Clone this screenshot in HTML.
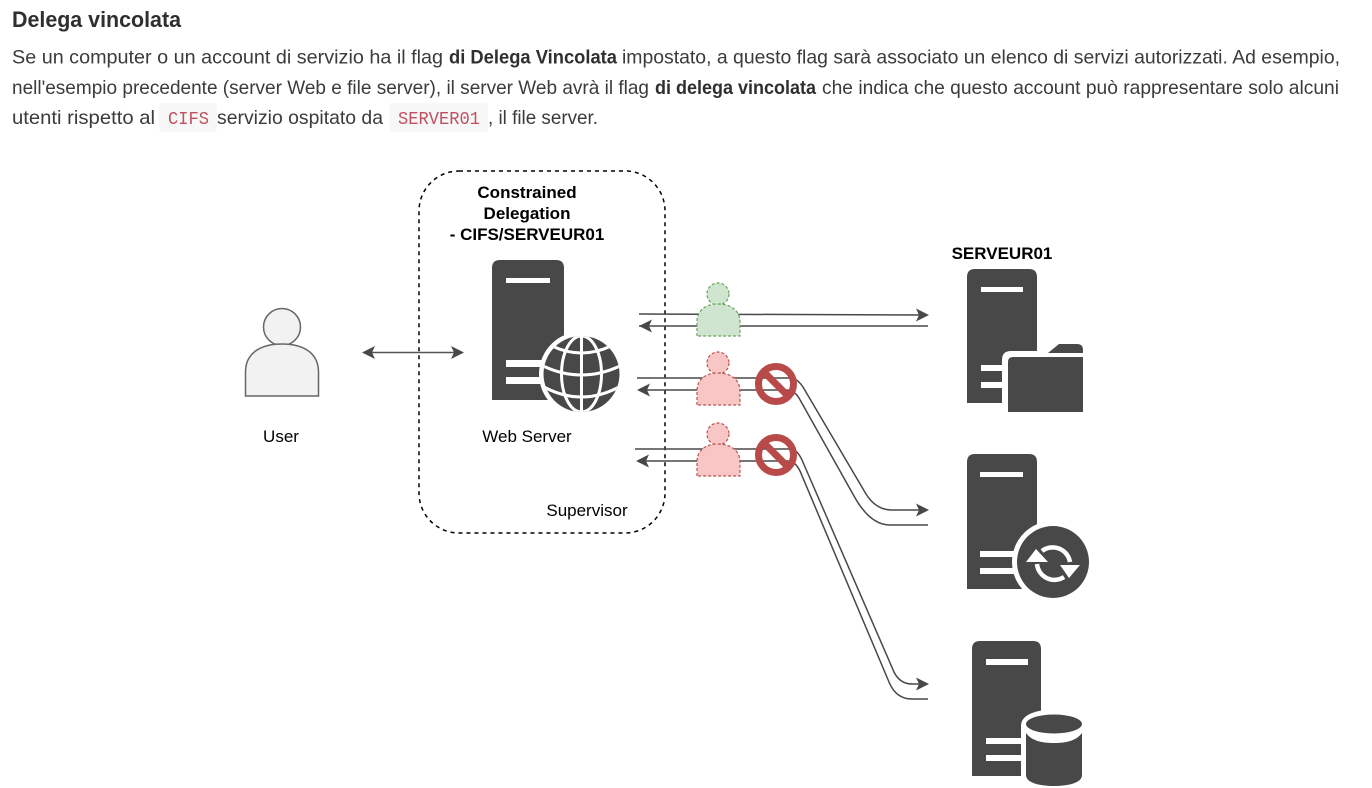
<!DOCTYPE html>
<html lang="it"><head><meta charset="utf-8"><title>Delega vincolata</title>
<style>html,body{margin:0;padding:0;background:#fff}svg{display:block}
.t{font-family:"Liberation Sans",sans-serif;font-size:19.5px;fill:#3b3b3b}
.b{font-weight:bold;fill:#2f2f2f}
.c{font-family:"Liberation Mono",monospace;font-size:18px;fill:#c0505f}
.d{font-family:"Liberation Sans",sans-serif;font-size:17px;fill:#000;text-anchor:middle}
.l{fill:none;stroke:#484848;stroke-width:1.5}
</style></head><body>
<svg width="1372" height="788" viewBox="0 0 1372 788" xmlns="http://www.w3.org/2000/svg">
<defs><clipPath id="g"><circle cx="581.500" cy="374" r="38"/></clipPath></defs>
<rect width="1372" height="788" fill="#fff"/>
<text class="t b" x="12" y="27" style="font-size:22.5px" textLength="169" lengthAdjust="spacingAndGlyphs">Delega vincolata</text>
<text class="t" x="12" y="63.500" textLength="431" lengthAdjust="spacingAndGlyphs">Se un computer o un account di servizio ha il flag</text>
<text class="t b" x="449" y="63.500" textLength="168" lengthAdjust="spacingAndGlyphs">di Delega Vincolata</text>
<text class="t" x="622" y="63.500" textLength="718" lengthAdjust="spacingAndGlyphs">impostato, a questo flag sarà associato un elenco di servizi autorizzati. Ad esempio,</text>
<text class="t" x="12" y="94" textLength="637" lengthAdjust="spacingAndGlyphs">nell'esempio precedente (server Web e file server), il server Web avrà il flag</text>
<text class="t b" x="655" y="94" textLength="161" lengthAdjust="spacingAndGlyphs">di delega vincolata</text>
<text class="t" x="822" y="94" textLength="517" lengthAdjust="spacingAndGlyphs">che indica che questo account può rappresentare solo alcuni</text>
<text class="t" x="12" y="124" textLength="143" lengthAdjust="spacingAndGlyphs">utenti rispetto al</text>
<rect x="159" y="103" width="58" height="29" rx="3" fill="#f7f7f7"/>
<text class="c" x="168" y="124" textLength="41" lengthAdjust="spacingAndGlyphs">CIFS</text>
<text class="t" x="217" y="124" textLength="166" lengthAdjust="spacingAndGlyphs">servizio ospitato da</text>
<rect x="389" y="103" width="99" height="29" rx="3" fill="#f7f7f7"/>
<text class="c" x="398" y="124" textLength="82" lengthAdjust="spacingAndGlyphs">SERVER01</text>
<text class="t" x="488" y="124" textLength="110" lengthAdjust="spacingAndGlyphs">, il file server.</text>

<rect x="419" y="171" width="246" height="362" rx="40" fill="none" stroke="#000" stroke-width="1.5" stroke-dasharray="4 4"/>
<text class="d" font-weight="bold" x="527" y="198">Constrained</text>
<text class="d" font-weight="bold" x="527" y="219">Delegation</text>
<text class="d" font-weight="bold" x="527" y="240">- CIFS/SERVEUR01</text>
<text class="d" font-weight="bold" x="1002" y="259">SERVEUR01</text>
<text class="d" x="281" y="442">User</text>
<text class="d" x="527" y="442">Web Server</text>
<text class="d" x="587" y="516">Supervisor</text>

<!-- User -->
<circle cx="282" cy="327" r="18.5" fill="#f2f2f2" stroke="#666" stroke-width="1.5"/>
<path d="M245.500 396V372C245.500 352 262 344 282 344S318.500 352 318.500 372V396Z" fill="#f2f2f2" stroke="#666" stroke-width="1.5"/>
<path d="M368 352.500H458" stroke="#555" stroke-width="1.5"/>
<path d="M362 352.500l13-6.500-3 6.500 3 6.500zM464 352.500l-13-6.500 3 6.500-3 6.500z" fill="#484848"/>

<!-- connectors -->
<path class="l" d="M639 314L922 315M639 326H928"/>
<path d="M929 315l-13-6.500 3 6.500-3 6.500zM639 326l13-6.500-3 6.500 3 6.500z" fill="#484848"/>
<path class="l" d="M637 378H790Q797 378 803 387L866 494Q876 510 892 510H922"/>
<path class="l" d="M641 390H786Q794 390 799 398L854 496Q870 525 890 525H928"/>
<path d="M929 510l-13-6.500 3 6.500-3 6.500zM637 390l13-6.500-3 6.500 3 6.500z" fill="#484848"/>
<path class="l" d="M635 449H790Q797 449 802 460L894 672Q900 684 912 684H922"/>
<path class="l" d="M640 461H788Q795 461 800 471L889 682Q896 699 912 699H928"/>
<path d="M929 684l-13-6.500 3 6.500-3 6.500zM636 461l13-6.500-3 6.500 3 6.500z" fill="#484848"/>

<!-- Small users -->
<g stroke-width="1.2" stroke-dasharray="3 2">
<circle cx="718" cy="294" r="11" fill="#cfe5cf" stroke="#6aa25b"/>
<path d="M697 336V322C697 310 706 304 718 304S740 310 740 322V336Z" fill="#cfe5cf" stroke="#6aa25b"/>
<circle cx="718" cy="363" r="11" fill="#f9c6c6" stroke="#b85450"/>
<path d="M697 405V391C697 379 706 373 718 373S740 379 740 391V405Z" fill="#f9c6c6" stroke="#b85450"/>
<circle cx="718" cy="434" r="11" fill="#f9c6c6" stroke="#b85450"/>
<path d="M697 476V462C697 450 706 444 718 444S740 450 740 462V476Z" fill="#f9c6c6" stroke="#b85450"/>
</g>
<g fill="none" stroke="#b84a4a" stroke-width="7">
<circle cx="776" cy="384" r="17.500"/><path d="M764 372L788 396"/>
<circle cx="776" cy="455" r="17.500"/><path d="M764 443L788 467"/>
</g>

<!-- Web server -->
<path d="M492 400V268Q492 260 500 260H556Q564 260 564 268V400Z" fill="#484848"/>
<path d="M506 278h44v5h-44zM506 360h44v7h-44zM506 377h44v7h-44z" fill="#fff"/>
<circle cx="581.500" cy="374" r="42.500" fill="#fff"/>
<circle cx="581.500" cy="374" r="38" fill="#484848"/>
<g fill="none" stroke="#fff" stroke-width="3" clip-path="url(#g)">
<path d="M581.500 336V412"/>
<ellipse cx="581.500" cy="374" rx="20" ry="38"/>
<path d="M552 346Q581.500 360 611 346M541 365Q581.500 385 622 365M544 387Q581.500 407 619 387"/>
</g>

<!-- File server -->
<path d="M967 403V277Q967 269 975 269H1029Q1037 269 1037 277V403Z" fill="#484848"/>
<path d="M981 287h42v5h-42zM981 365h42v6h-42zM981 382h42v6h-42z" fill="#fff"/>
<path d="M1002 413V360Q1002 351 1011 351H1040V413Z" fill="#fff"/>
<path d="M1008 412V362Q1008 357 1013 357H1083V412Z" fill="#484848"/>
<path d="M1048 353L1059 344H1077Q1083 344 1083 350V353Z" fill="#484848"/>

<!-- Sync server -->
<path d="M967 589V462Q967 454 975 454H1029Q1037 454 1037 462V589Z" fill="#484848"/>
<path d="M980 472h43v5h-43zM980 551h43v6h-43zM980 568h43v6h-43z" fill="#fff"/>
<circle cx="1053" cy="562" r="41" fill="#fff"/>
<circle cx="1053" cy="562" r="36" fill="#484848"/>
<g fill="none" stroke="#fff" stroke-width="4.500">
<path d="M1042 551A17.500 17.500 0 0 1 1070 562"/>
<path d="M1037 564A17.500 17.500 0 0 0 1064 577"/>
</g>
<path d="M1026 562L1036 549 1048 562ZM1060 565L1080 565 1069 578Z" fill="#fff"/>

<!-- DB server -->
<path d="M972 776V649Q972 641 980 641H1033Q1041 641 1041 649V776Z" fill="#484848"/>
<path d="M986 659h42v6h-42zM986 738h42v6h-42zM986 755h42v6h-42z" fill="#fff"/>
<path d="M1021 788V726Q1021 711 1054 709 1088 711 1088 726V788Z" fill="#fff"/>
<path d="M1026 733V775C1026 783 1040 786 1054 786S1082 783 1082 775V733C1076 741 1066 743 1054 743S1032 741 1026 733Z" fill="#484848"/>
<ellipse cx="1054" cy="724" rx="28" ry="9.500" fill="#484848"/>
</svg>
</body></html>
